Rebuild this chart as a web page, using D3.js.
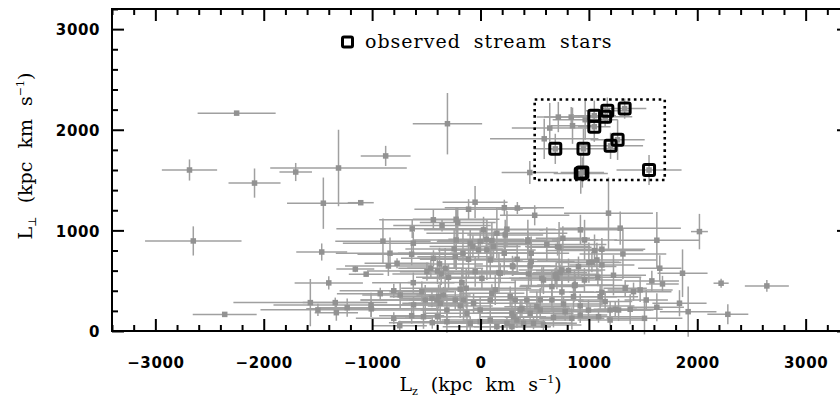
<!doctype html>
<html lang="en">
<head>
<meta charset="UTF-8" />
<title>Lz vs Lperp</title>
<script src="https://d3js.org/d3.v7.min.js"></script>
<style>
  html,body{margin:0;padding:0;background:#fff;}
  svg{display:block;}
  .tick-lab{font-family:"DejaVu Sans",sans-serif;font-size:15px;font-weight:bold;letter-spacing:0.6px;fill:#000;}
  .title{font-family:"DejaVu Serif",serif;font-size:19px;fill:#000;}
</style>
</head>
<body>
<div id="chart"></div>
<script>
/* ---------- data ---------- */
// field stars: [Lz, Lperp, errLz, errLperp]
const fieldStars = [
  [-2250,2165,360,15],[-2685,1600,255,105],[-2085,1470,240,145],[-1705,1580,150,90],
  [-1310,1620,630,380],[-875,1740,230,100],[-305,2060,320,305],[-2650,895,445,145],
  [-1450,1270,335,255],[-1105,1275,120,20],[-1465,785,235,85],[-1155,615,175,30],
  [-1055,565,160,20],[-1400,478,315,65],[-2360,165,295,15],[-1570,282,710,235],
  [-1500,210,530,60],[-1340,282,300,50],[-1330,182,200,80],[-1230,232,250,90],
  [-900,893,440,225],[-835,773,500,155],[-850,647,400,100],[-770,673,300,50],
  [-630,1015,700,90],[-620,873,650,110],[-635,763,500,110],[-435,1105,500,100],
  [-355,1048,450,60],[-620,480,380,100],[-800,400,500,70],[-1010,259,900,120],
  [-1008,220,600,80],[-800,126,350,60],[-635,152,300,80],[-445,83,400,60],
  [-925,371,400,60],[-745,53,250,50],
  [455,1575,260,115],[-50,1280,300,160],[-110,1210,500,100],[220,1225,550,80],
  [340,1222,180,60],[500,1150,320,100],[-225,1110,400,120],[-210,1078,350,150],
  [922,1005,380,150],[960,905,300,200],[760,922,250,120],[725,833,300,250],
  [612,860,550,170],[437,905,650,200],[338,713,400,150],[295,647,350,100],
  [458,647,250,150],[182,574,600,100],[443,567,350,140],[566,524,300,110],
  [698,564,400,120],[735,580,250,80],[867,451,500,160],[959,507,350,120],
  [1000,680,300,200],[1074,706,550,170],[1083,534,400,90],[1052,799,450,160],
  [1120,813,400,110],[1181,1171,410,355],[1289,1022,560,165],[1627,902,392,280],
  [2020,988,78,176],[-243,816,450,200],[-95,873,550,150],[-3,889,400,120],
  [105,899,500,180],[53,912,350,90],[-162,773,600,250],[-110,713,450,180],
  [-233,739,350,120],[-434,723,300,80],[-378,667,400,160],[-397,597,650,130],
  [-458,624,300,100],[-494,590,250,90],[-326,624,350,200],[-363,567,450,110],
  [-295,534,300,130],[-172,481,500,140],[-187,415,350,100],[-132,425,600,200],
  [-49,590,400,150],[13,524,550,100],[90,706,300,180],[59,806,450,300],
  [170,580,300,200],[299,640,250,90],[468,690,400,250],[437,889,300,100],
  [468,773,350,140],[219,773,500,220],[120,839,250,150],[-18,806,350,90],
  [-70,839,400,110],[151,972,650,250],[244,1012,450,180],[28,1005,550,130],
  [-224,905,400,300],[-510,308,600,150],[-448,325,300,90],[-402,308,700,110],
  [-372,276,350,200],[-387,341,450,120],[-341,358,250,80],[-541,391,300,100],
  [-310,209,700,150],[-233,308,400,90],[-157,308,500,200],[-187,249,300,120],
  [-64,276,600,100],[-125,176,400,180],[-3,209,550,140],[90,308,400,110],
  [105,375,300,90],[136,408,450,150],[274,341,350,100],[320,308,500,200],
  [428,308,300,130],[382,226,450,90],[290,176,350,140],[336,109,500,80],
  [397,77,400,60],[244,77,600,70],[90,109,450,100],[151,43,500,40],
  [290,43,350,40],[-3,93,600,90],[-95,77,350,70],[-310,93,450,110],
  [-397,142,300,90],[-526,142,250,120],[-618,259,400,80],[-741,358,350,130],
  [458,176,400,90],[520,242,300,150],[228,955,350,150],[1028,684,250,100],
  [1120,657,300,150],[1314,766,400,250],[1227,554,300,200],[1581,498,250,100],
  [1473,408,300,120],[1412,391,350,90],[1335,425,200,80],[1529,308,200,100],
  [1627,236,250,140],[1513,126,350,160],[1120,385,300,130],[1104,341,350,120],
  [1150,292,250,100],[1196,209,400,90],[1243,216,200,80],[1274,209,300,110],
  [1381,216,300,150],[920,249,500,120],[858,341,400,150],[874,458,350,110],
  [751,388,300,130],[659,308,500,100],[551,308,400,120],[659,441,300,160],
  [705,524,350,110],[689,547,250,80],[581,507,300,140],[751,607,400,200],
  [812,600,300,120],[904,640,350,100],[781,192,400,90],[843,126,300,110],
  [920,159,250,80],[996,209,350,100],[1089,142,400,60],[1196,109,300,120],
  [673,136,450,100],[551,209,300,90],[366,209,450,100],[305,142,300,80],
  [489,77,400,60],[581,60,350,50],[1654,624,200,130],[1864,574,231,237],
  [1679,468,150,80],[2220,475,70,45],[2642,448,203,58],[2282,166,189,100],
  [1836,276,250,130],[1916,192,261,250],[766,269,350,80],[711,839,300,90],
  [718,2126,200,150],[837,2126,250,100],[639,2017,350,250],[849,2040,200,180],
  [588,1910,500,200],[966,2100,300,200]
];

// observed stream stars: [Lz, Lperp, errLz, errLperp]
const streamStars = [
  [690,1810,200,150],[950,1810,300,200],[925,1565,250,200],[940,1575,200,150],
  [1050,2140,200,150],[1050,2030,150,150],[1170,2190,200,130],[1150,2130,250,100],
  [1330,2210,200,100],[1200,1840,300,130],[1265,1900,250,200],[1555,1600,300,150]
];

// selection box [Lz0, Lz1, Lperp0, Lperp1]
const selBox = [500,1700,1500,2300];

const xMajor = [-3000,-2000,-1000,0,1000,2000,3000];
const yMajor = [0,1000,2000,3000];
const xDomain = [-3400,3400];
const yDomain = [0,3200];

/* ---------- geometry ---------- */
const W = 840, H = 414;
const L = 112, R = 849, T = 9, B = 331;
const GREY_LINE = '#a0a0a0', GREY_PT = '#929292';

const svg = d3.select('#chart').append('svg').attr('width',W).attr('height',H);

const x = d3.scaleLinear().domain(xDomain).range([L,R]);
const y = d3.scaleLinear().domain(yDomain).range([B,T]);

const xMinor = d3.range(xDomain[0],xDomain[1]+1,200).filter(v=>v%1000!==0);
const yMinor = d3.range(yDomain[0],yDomain[1]+1,200).filter(v=>v%1000!==0);

/* ---------- data marks ---------- */
const gData = svg.append('g');
function drawStars(rows){
  const g = gData.append('g');
  rows.forEach(d=>{
    g.append('line').attr('x1',x(d[0]-d[2])).attr('x2',x(d[0]+d[2]))
      .attr('y1',y(d[1])).attr('y2',y(d[1]))
      .attr('stroke',GREY_LINE).attr('stroke-width',1.5);
    g.append('line').attr('x1',x(d[0])).attr('x2',x(d[0]))
      .attr('y1',y(d[1]-d[3])).attr('y2',y(d[1]+d[3]))
      .attr('stroke',GREY_LINE).attr('stroke-width',1.5);
  });
  g.selectAll('rect').data(rows).join('rect')
    .attr('x',d=>x(d[0])-2.75).attr('y',d=>y(d[1])-2.75)
    .attr('width',5.5).attr('height',5.5).attr('fill',GREY_PT);
}
drawStars(fieldStars);
drawStars(streamStars);

// dotted selection box
svg.append('rect')
  .attr('x',x(selBox[0])).attr('y',y(selBox[3]))
  .attr('width',x(selBox[1])-x(selBox[0])).attr('height',y(selBox[2])-y(selBox[3]))
  .attr('fill','none').attr('stroke','#000').attr('stroke-width',2.6)
  .attr('stroke-dasharray','2.6,3.6');

// stream star open squares
svg.append('g').selectAll('rect').data(streamStars).join('rect')
  .attr('x',d=>x(d[0])-5.5).attr('y',d=>y(d[1])-5.5)
  .attr('width',11).attr('height',11).attr('rx',1.5)
  .attr('fill','none').attr('stroke','#000').attr('stroke-width',3);

/* ---------- axes ---------- */
function tickAxis(axisFn, scale, vals, size, labels){
  return g => {
    g.call(axisFn(scale).tickValues(vals).tickSize(-size).tickFormat(labels?d3.format('d'):''));
    g.select('.domain').remove();
    g.selectAll('.tick line').attr('stroke','#000').attr('stroke-width',2);
  };
}
const gx = svg.append('g').attr('transform',`translate(0,${B})`);
gx.call(tickAxis(d3.axisBottom,x,xMajor,12,true));
gx.selectAll('text').attr('class','tick-lab').attr('y',37).attr('dy',0).attr('font-size',null).attr('font-family',null);
svg.append('g').attr('transform',`translate(0,${B})`).call(tickAxis(d3.axisBottom,x,xMinor,6,false));
svg.append('g').attr('transform',`translate(0,${T})`).call(tickAxis(d3.axisTop,x,xMajor,12,false));
svg.append('g').attr('transform',`translate(0,${T})`).call(tickAxis(d3.axisTop,x,xMinor,6,false));

const gy = svg.append('g').attr('transform',`translate(${L},0)`);
gy.call(tickAxis(d3.axisLeft,y,yMajor,12,true));
gy.selectAll('text').attr('class','tick-lab').attr('x',-12).attr('dy','0.38em').attr('font-size',null).attr('font-family',null);
svg.append('g').attr('transform',`translate(${L},0)`).call(tickAxis(d3.axisLeft,y,yMinor,6,false));
svg.append('g').attr('transform',`translate(${R},0)`).call(tickAxis(d3.axisRight,y,yMajor,12,false));
svg.append('g').attr('transform',`translate(${R},0)`).call(tickAxis(d3.axisRight,y,yMinor,6,false));
svg.selectAll('.tick text').text(function(){ return this.textContent.replace('-','\u2212'); });

// frame
svg.append('rect').attr('x',L).attr('y',T).attr('width',R-L).attr('height',B-T)
  .attr('fill','none').attr('stroke','#000').attr('stroke-width',2);

/* ---------- titles ---------- */
const xt = svg.append('text').attr('class','title')
  .attr('x',(x(0))).attr('y',391).attr('text-anchor','middle').attr('word-spacing','7px');
xt.append('tspan').text('L');
xt.append('tspan').attr('font-size',11).attr('dy',4).text('z');
xt.append('tspan').attr('dy',-4).text(' (kpc km s');
xt.append('tspan').attr('font-size',11).attr('dy',-8).text('\u22121');
xt.append('tspan').attr('dy',8).text(')');

const yt = svg.append('text').attr('class','title')
  .attr('transform',`translate(32,156) rotate(-90)`).attr('text-anchor','middle').attr('word-spacing','7px');
yt.append('tspan').text('L');
yt.append('tspan').attr('font-size',11).attr('dy',4).text('\u22a5');
yt.append('tspan').attr('dy',-4).text(' (kpc km s');
yt.append('tspan').attr('font-size',11).attr('dy',-8).text('\u22121');
yt.append('tspan').attr('dy',8).text(')');

/* ---------- legend ---------- */
svg.append('rect').attr('x',342.5).attr('y',37).attr('width',10).attr('height',10).attr('rx',1.5)
  .attr('fill','none').attr('stroke','#000').attr('stroke-width',3);
svg.append('text').attr('class','title').attr('x',365).attr('y',48).attr('font-size',18.5)
  .attr('word-spacing','6px').attr('letter-spacing','1px').text('observed stream stars');
</script>
</body>
</html>
